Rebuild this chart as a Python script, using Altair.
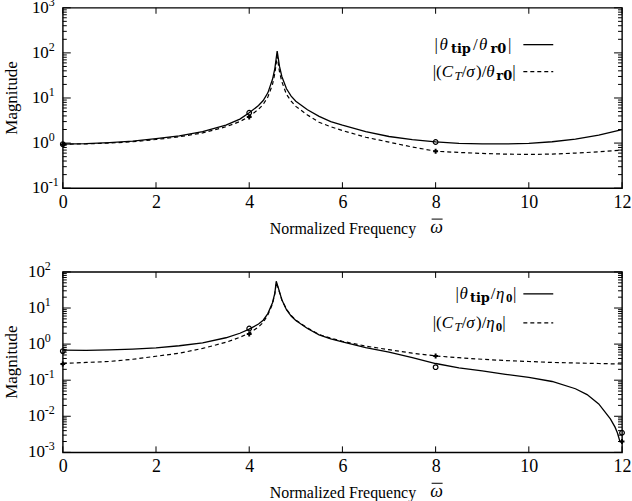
import altair as alt
import pandas as pd

SERIF = "Liberation Serif"
BOLD_SUB = "DejaVu Serif"
W, H = 561, 181

# ---- upper panel: response to root pitch input -------------------------
top_freq = [0, 0.5, 1.0, 1.5, 2.0, 2.5, 3.0, 3.5, 3.8, 4.0, 4.2, 4.3, 4.4, 4.5,
            4.55, 4.6, 4.65, 4.7, 4.8, 4.9, 5.0, 5.25, 5.5, 5.75, 6.0, 6.5, 7.0,
            7.5, 8.0, 8.5, 9.0, 9.5, 10.0, 10.5, 11.0, 11.5, 12.0]
top_tip = [0.95, 0.97, 1.02, 1.1, 1.25, 1.45, 1.8, 2.5, 3.4, 4.7, 6.8, 8.8, 13,
           26, 45, 110, 50, 30, 16, 11, 8.5, 5.5, 3.9, 3.0, 2.5, 1.8, 1.4, 1.2,
           1.06, 0.99, 0.96, 0.96, 0.99, 1.07, 1.22, 1.5, 2.0]
top_thrust = [0.95, 0.96, 1.0, 1.07, 1.2, 1.38, 1.68, 2.3, 3.0, 3.9, 5.6, 7.2,
              10.5, 20, 35, 85, 38, 23, 12, 8.5, 6.5, 4.2, 2.9, 2.3, 1.9, 1.35,
              1.05, 0.82, 0.66, 0.62, 0.59, 0.57, 0.56, 0.57, 0.6, 0.64, 0.7]
top_mark_freq = [0, 4, 8]
top_mark_tip = [0.95, 4.7, 1.06]
top_mark_thrust = [0.93, 3.8, 0.66]
top_exps = ["-1", "0", "1", "2", "3"]

# ---- lower panel: response to heave input ------------------------------
bot_freq = [0, 0.5, 1.0, 1.5, 2.0, 2.5, 3.0, 3.5, 3.8, 4.0, 4.2, 4.3, 4.4, 4.5,
            4.55, 4.58, 4.62, 4.7, 4.8, 4.9, 5.0, 5.25, 5.5, 5.75, 6.0, 6.5,
            7.0, 7.5, 8.0, 8.5, 9.0, 9.5, 10.0, 10.5, 11.0, 11.25, 11.5, 11.75,
            11.85, 11.9, 11.95, 12.0]
bot_tip = [0.68, 0.67, 0.69, 0.73, 0.79, 0.9, 1.08, 1.5, 2.0, 2.6, 3.6, 4.6, 7,
           14, 26, 55, 38, 17, 9, 6, 4.5, 2.7, 1.8, 1.4, 1.15, 0.8, 0.6, 0.42,
           0.29, 0.22, 0.18, 0.145, 0.12, 0.092, 0.058, 0.04, 0.022, 0.0085,
           0.005, 0.0035, 0.0021, 0.0018]
bot_thrust = [0.29, 0.31, 0.33, 0.38, 0.46, 0.56, 0.76, 1.12, 1.55, 2.0, 3.0,
              4.0, 6.5, 13, 25, 50, 36, 17, 9.2, 6.2, 4.6, 2.8, 1.85, 1.45, 1.2,
              0.88, 0.7, 0.56, 0.47, 0.42, 0.38, 0.35, 0.33, 0.31, 0.3, 0.295,
              0.29, 0.285, 0.283, 0.282, 0.281, 0.28]
bot_mark_freq = [0, 4, 8, 12]
bot_mark_tip = [0.64, 2.7, 0.23, 0.0035]
bot_mark_thrust = [0.28, 1.9, 0.47, 0.002]
bot_exps = ["-3", "-2", "-1", "0", "1", "2"]

x_ticks = [0, 2, 4, 6, 8, 10, 12]
minor_steps = [2, 3, 4, 5, 6, 7, 8, 9]

# legend glyph runs: (text, style, advance in px)
# style -> (font, size, weight, fontStyle, dy)
STYLES = {
    "n": (SERIF, 17, "normal", "normal", 0),
    "i": (SERIF, 17, "normal", "italic", 0),
    "sb": (BOLD_SUB, 13, "bold", "normal", 4),
    "s0": (SERIF, 13, "bold", "normal", 4),
    "si": (SERIF, 13, "normal", "italic", 4),
}
top_legend = [
    # y, start x, gap, runs, dash
    (37, 373, 1.5, [("|", "n", 3.4), ("θ", "i", 10), ("tip", "sb", 20.5),
                    ("/", "n", 4.7), ("θ", "i", 10), ("r0", "sb", 16),
                    ("|", "n", 3.4)], []),
    (64, 371, 0, [("|", "n", 3.4), ("(", "n", 5.7), ("C", "i", 12.8),
                  ("T", "si", 7.2), ("/", "n", 4.7), ("σ", "i", 9.7),
                  (")", "n", 5.7), ("/", "n", 4.7), ("θ", "i", 10),
                  ("r0", "sb", 16), ("|", "n", 3.4)], [4, 3]),
]
bot_legend = [
    (22, 394, 0.5, [("|", "n", 3.4), ("θ", "i", 10), ("tip", "sb", 20.5),
                    ("/", "n", 4.7), ("η", "i", 9.5), ("0", "s0", 6.5),
                    ("|", "n", 3.4)], []),
    (51, 371, 0, [("|", "n", 3.4), ("(", "n", 5.7), ("C", "i", 12.8),
                  ("T", "si", 7.2), ("/", "n", 4.7), ("σ", "i", 9.7),
                  (")", "n", 5.7), ("/", "n", 4.7), ("η", "i", 9.5),
                  ("0", "s0", 6.5), ("|", "n", 3.4)], [4, 3]),
]


def panel(freq, tip, thrust, mk_f, mk_tip, mk_thr, exps, legend, label_x):
    lo, hi = 10.0 ** int(exps[0]), 10.0 ** int(exps[-1])
    xs = alt.Scale(domain=[0, 12], nice=False, zero=False)
    ys = alt.Scale(type="log", domain=[lo, hi], nice=False)
    x_axis = alt.Axis(values=x_ticks, labelFont=SERIF, labelFontSize=18,
                      labelColor="black", labelPadding=5, ticks=False,
                      tickSize=0, domain=False, grid=False, title=None,
                      labelFlush=False)
    X = alt.X("f:Q", scale=xs, axis=x_axis)
    Y = alt.Y("m:Q", scale=ys, axis=None)

    layers = []
    # reserve the page margins around the plot frame
    layers.append(alt.Chart(pd.DataFrame({"a": [0]})).mark_rect(opacity=0).encode(
        x=alt.value(-62), x2=alt.value(W + 9), y=alt.value(-20), y2=alt.value(H)))

    solid = pd.DataFrame({"f": freq, "m": tip})
    dashed = pd.DataFrame({"f": freq, "m": thrust})
    layers.append(alt.Chart(solid).mark_line(color="black", strokeWidth=1.3)
                  .encode(x=X, y=Y, order="f:Q"))
    layers.append(alt.Chart(dashed).mark_line(color="black", strokeWidth=1.2,
                                              strokeDash=[4, 3])
                  .encode(x=X, y=Y, order="f:Q"))

    layers.append(alt.Chart(pd.DataFrame({"f": mk_f, "m": mk_tip}))
                  .mark_point(shape="circle", filled=False, color="black",
                              size=22, strokeWidth=1.2, opacity=1)
                  .encode(x=X, y=Y))
    layers.append(alt.Chart(pd.DataFrame({"f": mk_f, "m": mk_thr}))
                  .mark_point(shape="cross", filled=True, color="black",
                              size=24, opacity=1)
                  .encode(x=X, y=Y))

    # inward ticks on all four sides
    majors = [10.0 ** int(e) for e in exps]
    minors = [10.0 ** int(e) * s for e in exps[:-1] for s in minor_steps]
    for vals, ln in ((majors, 8), (minors, 4)):
        d = pd.DataFrame({"m": vals})
        layers.append(alt.Chart(d).mark_rule(color="black", strokeWidth=1)
                      .encode(y=Y, x=alt.value(0), x2=alt.value(ln)))
        layers.append(alt.Chart(d).mark_rule(color="black", strokeWidth=1)
                      .encode(y=Y, x=alt.value(W), x2=alt.value(W - ln)))
    dx = pd.DataFrame({"f": x_ticks})
    layers.append(alt.Chart(dx).mark_rule(color="black", strokeWidth=1)
                  .encode(x=X, y=alt.value(H), y2=alt.value(H - 6)))
    layers.append(alt.Chart(dx).mark_rule(color="black", strokeWidth=1)
                  .encode(x=X, y=alt.value(0), y2=alt.value(6)))

    # power-of-ten tick labels
    dl = pd.DataFrame({"m": majors, "e": exps})
    layers.append(alt.Chart(dl).mark_text(align="left", baseline="middle",
                                          font=SERIF, fontSize=17, color="black")
                  .encode(y=Y, x=alt.value(label_x), text=alt.value("10")))
    layers.append(alt.Chart(dl).mark_text(align="left", baseline="middle",
                                          font=SERIF, fontSize=12, color="black",
                                          dy=-6)
                  .encode(y=Y, x=alt.value(label_x + 17), text="e:N"))

    one = pd.DataFrame({"a": [0]})

    def txt(s, x, y, font=SERIF, size=17, weight="normal", style="normal",
            dy=0, align="left", angle=0):
        return alt.Chart(one).mark_text(
            align=align, baseline="middle", font=font, fontSize=size,
            fontWeight=weight, fontStyle=style, color="black", dy=dy,
            angle=angle).encode(x=alt.value(x), y=alt.value(y),
                                text=alt.value(s))

    # axis titles
    layers.append(txt("Magnitude", -51, H / 2, size=17, angle=270,
                      align="center"))
    layers.append(txt("Normalized Frequency", 281, H + 41, size=16,
                      align="center"))
    layers.append(txt("ω", 375, H + 40, size=18, style="italic",
                      align="center"))
    layers.append(alt.Chart(one).mark_rule(color="black", strokeWidth=1)
                  .encode(x=alt.value(370), x2=alt.value(381),
                          y=alt.value(H + 31)))

    # legend
    for y, x0, gap, runs, dash in legend:
        x = x0
        for s, st, adv in runs:
            font, size, weight, style, ddy = STYLES[st]
            layers.append(txt(s, x, y, font=font, size=size, weight=weight,
                              style=style, dy=ddy))
            x += adv + gap
        rule = alt.Chart(one).mark_rule(color="black", strokeWidth=1.3,
                                        **({"strokeDash": dash} if dash else {}))
        layers.append(rule.encode(x=alt.value(462), x2=alt.value(492),
                                  y=alt.value(y)))

    return alt.layer(*layers).properties(width=W, height=H)


top = panel(top_freq, top_tip, top_thrust, top_mark_freq, top_mark_tip,
            top_mark_thrust, top_exps, top_legend, -31)
bottom = panel(bot_freq, bot_tip, bot_thrust, bot_mark_freq, bot_mark_tip,
               bot_mark_thrust, bot_exps, bot_legend, -35)

chart = (
    alt.vconcat(top, bottom, spacing=84, bounds="flush")
    .properties(padding={"left": 0, "top": -14, "right": 0, "bottom": 0},
                background="white")
    .configure_view(stroke="black", strokeWidth=1.4)
)

chart.save("out.html", embed_options={"renderer": "svg", "actions": False})
